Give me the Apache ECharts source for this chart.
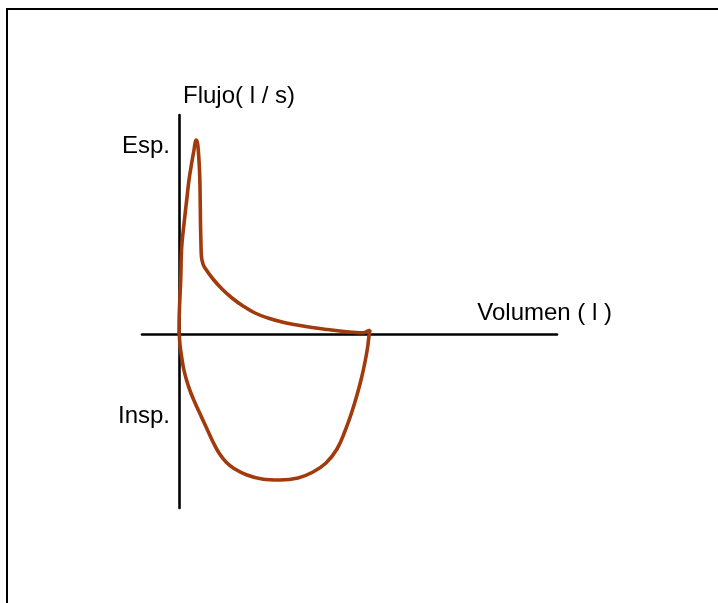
<html lang="en">
<head>
    <meta charset="UTF-8">
    <script src="https://cdn.jsdelivr.net/npm/echarts@6/dist/echarts.min.js"></script>
    <title>Flujo-Volumen</title>
    <style>
      html, body { margin: 0; padding: 0; background: #fff; }
    </style>
</head>
<body>

<div id="main" style="width: 718px;height:603px;"></div>

<script>
  var volumen = [
    0, 0.006, 0.034, 0.054, 0.10, 0.154, 0.20, 0.254, 0.30, 0.34, 0.37, 0.39, 0.41, 0.42, 0.43, 0.44,
    0.45, 0.48, 0.52, 0.68, 0.86, 1.06, 1.28, 1.52, 1.78, 2.06, 2.36, 2.66, 2.96, 3.26, 3.54, 3.68,
    3.78, 3.82, 3.80, 3.77, 3.72, 3.65, 3.56, 3.45, 3.32, 3.16, 2.94, 2.68, 2.38, 2.02, 1.66, 1.36,
    1.10, 0.94, 0.80, 0.68, 0.56, 0.44, 0.33, 0.23, 0.15, 0.09, 0.05, 0.02, 0.006
  ];
  var flujo = [
    0, 0.84, 2.16, 3.48, 4.40, 5.36, 6.16, 6.84, 7.36, 7.76, 7.64, 7.24, 6.56, 5.88, 4.44, 3.56,
    3.08, 2.80, 2.64, 2.20, 1.80, 1.44, 1.12, 0.84, 0.64, 0.48, 0.36, 0.26, 0.18, 0.11, 0.06, 0.05,
    0.12, 0.16, -0.08, -0.56, -1.12, -1.76, -2.44, -3.16, -3.88, -4.60, -5.16, -5.52, -5.76, -5.84, -5.80, -5.64,
    -5.38, -5.12, -4.76, -4.32, -3.80, -3.28, -2.80, -2.32, -1.84, -1.36, -0.88, -0.44, 0
  ];

  // side labels on the flow axis
  var ladoValores = [7.5, -3.3];
  var ladoTextos = ['Esp.', 'Insp.'];

  var fuente = "'Liberation Sans', Arial, sans-serif";

  var myChart = echarts.init(document.getElementById('main'));

  var option = {
      animation: false,
      backgroundColor: '#fff',
      graphic: [{
          type: 'rect',
          shape: { x: 7, y: 9, width: 800, height: 700 },
          style: { fill: 'none', stroke: '#000', lineWidth: 2 },
          silent: true
      }],
      grid: { left: 142, right: 161, top: 115, bottom: 95 },
      xAxis: {
          type: 'value',
          min: -0.74,
          max: 7.56,
          name: 'Volumen ( l )',
          nameLocation: 'end',
          nameGap: 55,
          nameTextStyle: {
              fontFamily: fuente, fontSize: 24, color: '#000',
              align: 'right', verticalAlign: 'bottom', padding: [0, 0, 9, 0]
          },
          axisLine: { onZero: true, lineStyle: { color: '#000', width: 2.6 } },
          axisTick: { show: false },
          axisLabel: { show: false },
          splitLine: { show: false }
      },
      yAxis: {
          type: 'value',
          min: -6.96,
          max: 8.76,
          name: 'Flujo( l / s)',
          nameLocation: 'end',
          nameGap: 7,
          nameTextStyle: {
              fontFamily: fuente, fontSize: 24, color: '#000',
              align: 'left', verticalAlign: 'bottom', padding: [0, 0, 0, 4]
          },
          axisLine: { onZero: true, lineStyle: { color: '#000', width: 2.6 } },
          axisTick: { show: false },
          axisLabel: {
              customValues: ladoValores,
              formatter: function (v) {
                  var i = ladoValores.indexOf(v);
                  return i >= 0 ? ladoTextos[i] : '';
              },
              margin: -28,
              fontFamily: fuente, fontSize: 24, color: '#000'
          },
          splitLine: { show: false }
      },
      series: [{
          name: 'Flujo-Volumen',
          type: 'line',
          data: volumen.map(function (v, i) { return [v, flujo[i]]; }),
          smooth: 0.4,
          showSymbol: false,
          lineStyle: { color: '#A23B0B', width: 3.6 },
          silent: true
      }]
  };

  myChart.setOption(option);
</script>

</body>
</html>
